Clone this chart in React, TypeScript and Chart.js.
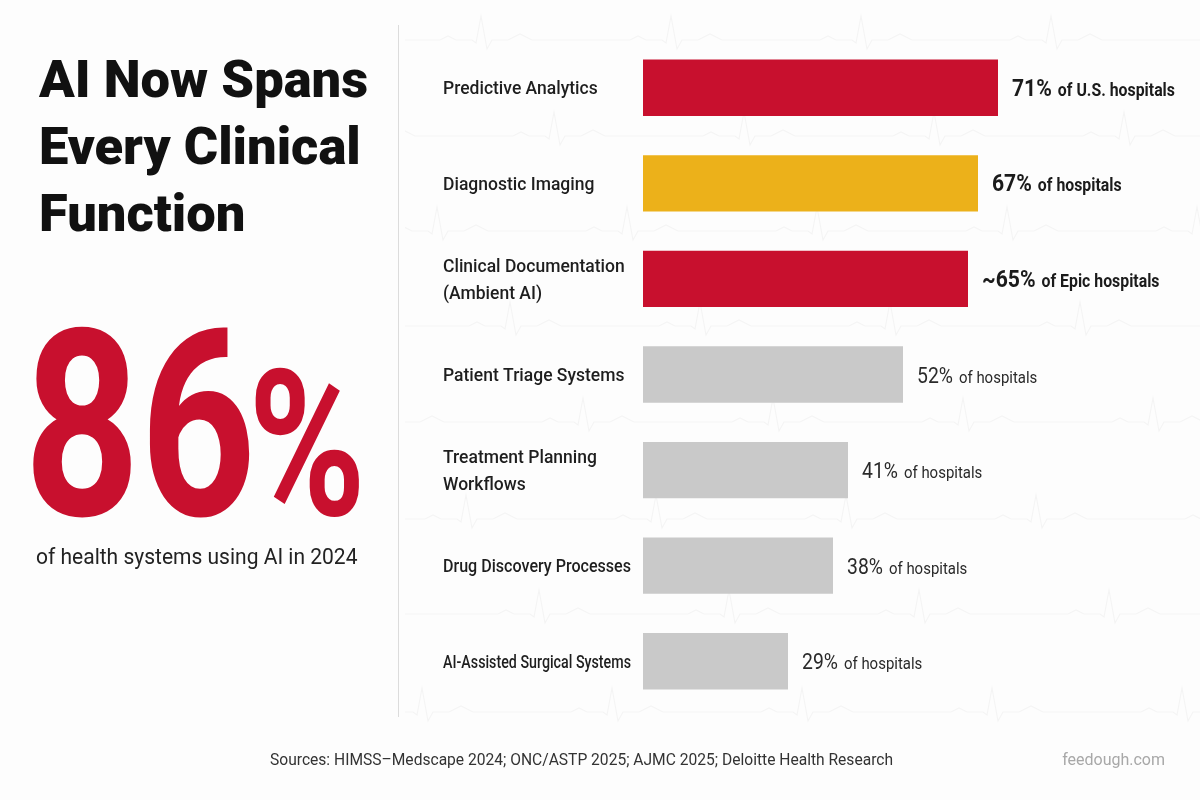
import { useEffect, useRef } from "react";
import { Chart, registerables } from "chart.js";

Chart.register(...registerables);

// Clinical functions, one row per bar (multi-line labels as arrays)
const categories: string[][] = [
  ["Predictive Analytics"],
  ["Diagnostic Imaging"],
  ["Clinical Documentation", "(Ambient AI)"],
  ["Patient Triage Systems"],
  ["Treatment Planning", "Workflows"],
  ["Drug Discovery Processes"],
  ["AI-Assisted Surgical Systems"],
];

// Share of hospitals using AI for each function (%)
const adoptionPct = [71, 67, 65, 52, 41, 38, 29];
const approximate = [false, false, true, false, false, false, false];
const populations = [
  "of U.S. hospitals",
  "of hospitals",
  "of Epic hospitals",
  "of hospitals",
  "of hospitals",
  "of hospitals",
  "of hospitals",
];
const featured = [true, true, true, false, false, false, false];
const barColors = ["#c8102e", "#ecb11a", "#c8102e", "#c9c9c9", "#c9c9c9", "#c9c9c9", "#c9c9c9"];

const FONT = "Roboto, 'Noto Sans', sans-serif";
const LABEL_SQUEEZE = 0.88;
const NAME_LEFT = 443; // x where the function names start
const NAME_MAX_WIDTH = 188; // names longer than this are condensed to fit the column
const NAME_LINE = 27;

// Faint heartbeat traces behind the bar panel
const ecgBackdrop = {
  id: "ecgBackdrop",
  beforeDraw(chart: any) {
    const { ctx, width, height } = chart;
    const rows = [40, 136, 231, 326, 422, 519, 614, 712];
    const period = 190;
    const beat: [number, number][] = [
      [0, 0], [60, 0], [68, -4], [76, 0], [92, 0], [96, 3], [101, -24], [107, 9], [112, 0],
      [128, 0], [140, -6], [152, 0], [190, 0],
    ];
    ctx.save();
    ctx.beginPath();
    ctx.rect(405, 0, width - 405, height);
    ctx.clip();
    ctx.strokeStyle = "rgba(0,0,0,0.035)";
    ctx.lineWidth = 1.2;
    rows.forEach((y, r) => {
      const phase = ((r * 73) % period) - period;
      ctx.beginPath();
      for (let x0 = phase; x0 < width; x0 += period) {
        beat.forEach(([dx, dy], k) => {
          if (x0 === phase && k === 0) ctx.moveTo(x0 + dx, y + dy);
          else ctx.lineTo(x0 + dx, y + dy);
        });
      }
      ctx.stroke();
    });
    ctx.restore();
  },
};

// Function names, left-aligned in their own column and centred on each bar
const categoryNames = {
  id: "categoryNames",
  afterDraw(chart: any) {
    const ctx = chart.ctx;
    const yScale = chart.scales.y;
    const labels: string[][] = chart.data.labels;
    ctx.save();
    ctx.font = `500 17.5px ${FONT}`;
    ctx.fillStyle = "#1e1e1e";
    ctx.textAlign = "left";
    ctx.textBaseline = "alphabetic";
    labels.forEach((lines, i) => {
      const cy = yScale.getPixelForValue(i);
      const firstBaseline = cy - ((lines.length - 1) * NAME_LINE) / 2 + 6.5;
      lines.forEach((line, k) => {
        ctx.fillText(line, NAME_LEFT, firstBaseline + k * NAME_LINE, NAME_MAX_WIDTH);
      });
    });
    ctx.restore();
  },
};

// "71% of U.S. hospitals" style annotations beside each bar
const valueLabels = {
  id: "valueLabels",
  afterDatasetsDraw(chart: any) {
    const ctx = chart.ctx;
    const meta = chart.getDatasetMeta(0);
    meta.data.forEach((bar: any, i: number) => {
      const strong = featured[i];
      const pct = (approximate[i] ? "~" : "") + adoptionPct[i] + "%";
      ctx.save();
      ctx.translate(bar.x + 14, bar.y + 8);
      ctx.scale(LABEL_SQUEEZE, 1);
      ctx.textAlign = "left";
      ctx.textBaseline = "alphabetic";
      ctx.fillStyle = strong ? "#1b1b1b" : "#2a2a2a";
      ctx.font = `${strong ? 700 : 400} ${strong ? 24 : 22}px ${FONT}`;
      ctx.fillText(pct, 0, 0);
      const w = ctx.measureText(pct).width;
      ctx.font = `${strong ? 700 : 400} ${strong ? 18 : 17}px ${FONT}`;
      ctx.fillText(populations[i], w + 6 / LABEL_SQUEEZE, 0);
      ctx.restore();
    });
  },
};

function AdoptionChart() {
  const canvasRef = useRef<HTMLCanvasElement | null>(null);

  useEffect(() => {
    if (!canvasRef.current) return;
    const chart = new Chart(canvasRef.current, {
      type: "bar",
      data: {
        labels: categories,
        datasets: [
          {
            data: adoptionPct,
            backgroundColor: barColors,
            borderWidth: 0,
            barPercentage: 0.59,
            categoryPercentage: 1,
          },
        ],
      },
      options: {
        indexAxis: "y",
        responsive: false,
        animation: false,
        layout: { padding: { left: 643, right: 57, top: 40, bottom: 91 } },
        plugins: { legend: { display: false }, tooltip: { enabled: false } },
        scales: {
          x: { display: false, min: 0, max: 100 },
          y: {
            grid: { display: false, drawTicks: false },
            border: { display: false },
            ticks: { display: false },
            afterFit: (scale: any) => {
              scale.width = 0;
            },
          },
        },
      },
      plugins: [ecgBackdrop, valueLabels, categoryNames],
    } as any);
    return () => chart.destroy();
  }, []);

  return (
    <canvas
      ref={canvasRef}
      width={1200}
      height={800}
      style={{ position: "absolute", left: 0, top: 0, width: 1200, height: 800 }}
    />
  );
}

export default function App() {
  return (
    <div
      style={{
        position: "fixed",
        left: 0,
        top: 0,
        width: 1200,
        height: 800,
        background: "#fdfdfd",
        overflow: "hidden",
        fontFamily: FONT,
      }}
    >
      <AdoptionChart />

      <div
        style={{
          position: "absolute",
          left: 398,
          top: 25,
          width: 1,
          height: 692,
          background: "#dcdcdc",
        }}
      />

      <div
        style={{
          position: "absolute",
          left: 39,
          top: 46,
          fontSize: 52.5,
          fontWeight: 900,
          lineHeight: "67px",
          color: "#111",
          whiteSpace: "nowrap",
        }}
      >
        AI Now Spans
        <br />
        Every Clinical
        <br />
        Function
      </div>

      <div
        style={{
          position: "absolute",
          left: 24,
          top: 295,
          fontSize: 261,
          fontWeight: 700,
          lineHeight: "263px",
          color: "#c8102e",
          whiteSpace: "nowrap",
          transform: "scaleX(0.775)",
          transformOrigin: "0 0",
        }}
      >
        86<span style={{ fontSize: 205, marginLeft: -10 }}>%</span>
      </div>

      <div
        style={{
          position: "absolute",
          left: 36,
          top: 544,
          fontSize: 22,
          lineHeight: "26px",
          color: "#222",
          whiteSpace: "nowrap",
          transform: "scaleX(0.955)",
          transformOrigin: "0 0",
        }}
      >
        of health systems using AI in 2024
      </div>

      <div
        style={{
          position: "absolute",
          left: 270,
          top: 750,
          fontSize: 15.6,
          lineHeight: "20px",
          color: "#333",
          whiteSpace: "nowrap",
        }}
      >
        Sources: HIMSS–Medscape 2024; ONC/ASTP 2025; AJMC 2025; Deloitte Health Research
      </div>

      <div
        style={{
          position: "absolute",
          right: 35,
          top: 750,
          fontSize: 16,
          lineHeight: "20px",
          color: "#a8a8a8",
          whiteSpace: "nowrap",
        }}
      >
        feedough.com
      </div>
    </div>
  );
}
